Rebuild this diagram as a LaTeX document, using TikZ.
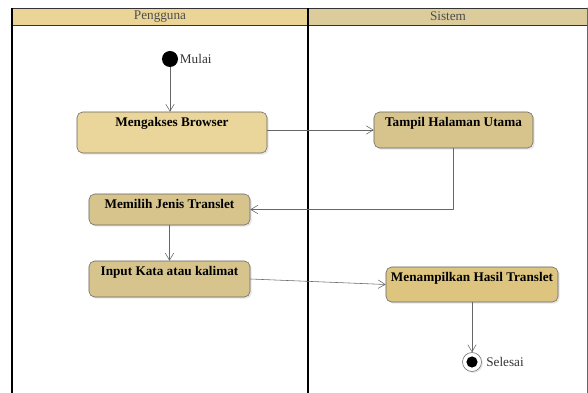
\documentclass[tikz,border=0pt]{standalone}
\usepackage{fontspec}
\setmainfont{Liberation Serif}
\usetikzlibrary{arrows.meta,shadows}
\definecolor{lajurA}{HTML}{EAD597}
\definecolor{lajurB}{HTML}{DCCC9C}
\definecolor{emas}{HTML}{EAD69A}
\definecolor{tan}{HTML}{D7C48D}
\definecolor{kuning}{HTML}{DDC47F}
\begin{document}
\begin{tikzpicture}[x=0.025cm, y=-0.025cm, >={Straight Barb[length=5pt,width=6pt]}, font=\fontsize{9.4}{11}\selectfont, line join=round, line cap=round,
	aksi/.style={draw=black!60, rounded corners=4pt, inner sep=0pt, text height=0.375cm, font=\fontsize{9.4}{11}\selectfont\bfseries, drop shadow={opacity=0.2, shadow xshift=1.2pt, shadow yshift=-1.2pt}},
	alur/.style={draw=black!60, ->}]
	\useasboundingbox (0,0) rectangle (588,393);
	% lajur
	\fill[lajurA] (12,8) rectangle (308,25);
	\fill[lajurB] (308,8) rectangle (587,25);
	\draw[black!60] (587,8) -- (587,393);
	\draw[black!80] (12,8) -- (587,8);
	\draw[black!80] (12,25) -- (587,25);
	\draw[line width=1.2pt, line cap=butt] (12,8) -- (12,393);
	\draw[line width=1.3pt, line cap=butt] (308,8) -- (308,393);
	\node[text=black!70] (pengguna) at (160,16.5) {Pengguna};
	\node[text=black!70] (sistem) at (448,16.5) {Sistem};
	% aktivitas
	\node[circle, fill=black, minimum size=0.4cm, inner sep=0pt, label={[inner sep=1pt, text=black!80]right:Mulai}] (mulai) at (170,59) {};
	\node[aksi, fill=emas, minimum width=4.75cm, text depth=0.65cm] (akses) at (172,132.5) {Mengakses Browser};
	\node[aksi, fill=tan, minimum width=3.975cm, text depth=0.525cm] (tampil) at (453.5,130) {Tampil Halaman Utama};
	\node[aksi, fill=tan, minimum width=4.025cm, text depth=0.4cm] (pilih) at (169.5,209.5) {Memilih Jenis Translet};
	\node[aksi, fill=tan, minimum width=4.025cm, text depth=0.525cm] (input) at (169.5,279) {Input Kata atau kalimat};
	\node[aksi, fill=kuning, minimum width=4.3cm, text depth=0.5cm] (hasil) at (472,284.5) {Menampilkan Hasil Translet};
	\node[circle, draw=black!60, fill=white, minimum size=0.475cm, inner sep=0pt, drop shadow={opacity=0.2, shadow xshift=1pt, shadow yshift=-1pt}, label={[inner sep=3pt, text=black!80]right:Selesai}] (selesai) at (472,362) {};
	\fill (selesai.center) circle (0.14cm);
	% alur
	\draw[alur] (mulai) -- (mulai |- akses.north);
	\draw[alur] (akses.east |- tampil) -- (tampil.west);
	\draw[alur] (tampil.south) |- (pilih.east);
	\draw[alur] (pilih) -- (input);
	\draw[alur] (input.east) -- (hasil.west);
	\draw[alur] (hasil) -- (selesai);
\end{tikzpicture}
\end{document}
